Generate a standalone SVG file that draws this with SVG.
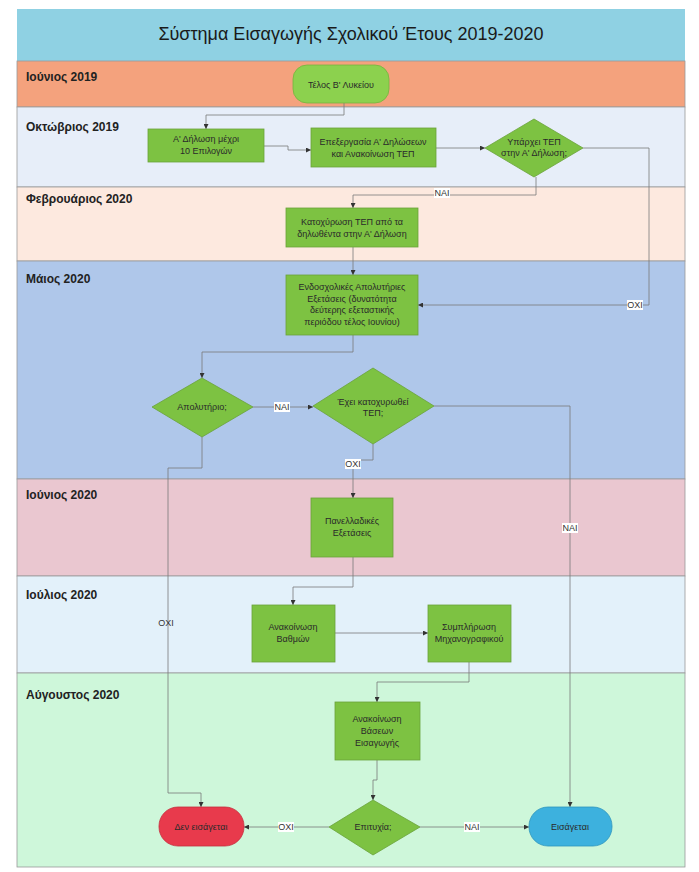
<svg xmlns="http://www.w3.org/2000/svg" width="699" height="872" viewBox="0 0 699 872">
<defs>
<marker id="arr" viewBox="0 0 10 10" refX="10" refY="5" markerWidth="5" markerHeight="5" markerUnits="userSpaceOnUse" orient="auto"><path d="M0,0 L10,5 L0,10z" fill="#333"/></marker>
<style>
.band{stroke:#9a9a9a;stroke-width:0.8}
.bl{font-family:"Liberation Sans",Arial,sans-serif;font-size:12px;font-weight:bold;fill:#222}
.t{font-family:"Liberation Sans Narrow","Liberation Sans",Arial,sans-serif;font-size:9px;fill:#2a2a2a;text-anchor:middle}
.g{fill:#7dc242;stroke:#6aa23a;stroke-width:0.8}
.c{fill:none;stroke:#7a7a7a;stroke-width:0.8;marker-end:url(#arr)}
.lb{fill:#ffffff}
.lt{font-family:"Liberation Sans Narrow","Liberation Sans",Arial,sans-serif;font-size:9px;fill:#333;text-anchor:middle}
</style>
</defs>
<rect width="699" height="872" fill="#ffffff"/>
<g id="lanes">
<rect x="17" y="9" width="668" height="52" fill="#8fd1e3"/>
<rect class="band" x="17" y="61" width="668" height="46" fill="#f4a27d"/>
<rect class="band" x="17" y="107" width="668" height="80" fill="#e7eef9"/>
<rect class="band" x="17" y="187" width="668" height="74" fill="#fde9df"/>
<rect class="band" x="17" y="261" width="668" height="218" fill="#afc7ea"/>
<rect class="band" x="17" y="479" width="668" height="97" fill="#eac7d0"/>
<rect class="band" x="17" y="576" width="668" height="97" fill="#e3f1fa"/>
<rect class="band" x="17" y="673" width="668" height="194" fill="#cef7da"/>
<text x="351" y="40" text-anchor="middle" style="font-family:'Liberation Sans',Arial,sans-serif;font-size:18px;fill:#1a1a1a">Σύστημα Εισαγωγής Σχολικού Έτους 2019-2020</text>
<text class="bl" x="26" y="81">Ιούνιος 2019</text>
<text class="bl" x="26" y="131">Οκτώβριος 2019</text>
<text class="bl" x="26" y="203">Φεβρουάριος 2020</text>
<text class="bl" x="26" y="283">Μάιος 2020</text>
<text class="bl" x="26" y="499">Ιούνιος 2020</text>
<text class="bl" x="26" y="599">Ιούλιος 2020</text>
<text class="bl" x="26" y="699">Αύγουστος 2020</text>
</g>
<g id="connectors">
<path class="c" d="M344,103 V115 H206 V129"/>
<path class="c" d="M264,146 H288 V150 H311"/>
<path class="c" d="M436,148 H485"/>
<path class="c" d="M536,177 V195 H353 V208"/>
<path class="c" d="M583,148 H649 V305 H418"/>
<path class="c" d="M353,247 V275"/>
<path class="c" d="M353,335 V352 H202 V378"/>
<path class="c" d="M253,407 H313"/>
<path class="c" d="M434,406 H570 V807"/>
<path class="c" d="M373,444 V460 H353 V498"/>
<path class="c" d="M353,557 V587 H293 V605"/>
<path class="c" d="M335,633 H428"/>
<path class="c" d="M469,662 V682 H377 V702"/>
<path class="c" d="M377,760 V780 H373 V800"/>
<path class="c" d="M202,437 V468 H168 V793 H201 V807"/>
<path class="c" d="M329,827 H244"/>
<path class="c" d="M420,827 H529"/>
<rect class="lb" x="434" y="188" width="16" height="10"/><text class="lt" x="442" y="196">ΝΑΙ</text>
<rect class="lb" x="627" y="300" width="16" height="10"/><text class="lt" x="635" y="308">ΟΧΙ</text>
<rect class="lb" x="274" y="402" width="16" height="10"/><text class="lt" x="282" y="410">ΝΑΙ</text>
<rect class="lb" x="345" y="459" width="16" height="10"/><text class="lt" x="353" y="467">ΟΧΙ</text>
<rect class="lb" x="562" y="523" width="16" height="10"/><text class="lt" x="570" y="531">ΝΑΙ</text>
<text class="lt" x="166" y="626">ΟΧΙ</text>
<rect class="lb" x="278" y="822" width="16" height="10"/><text class="lt" x="286" y="830">ΟΧΙ</text>
<rect class="lb" x="464" y="822" width="16" height="10"/><text class="lt" x="472" y="830">ΝΑΙ</text>
</g>
<g id="n-telos"><rect x="293" y="65" width="96" height="38" rx="14" fill="#8cd14e" stroke="#76b23f" stroke-width="0.8"/><text class="t" x="341" y="88">Τέλος Β' Λυκείου</text></g>
<g id="n-dilosi"><rect class="g" x="148" y="129" width="116" height="33"/><text class="t" x="206" y="142">Α' Δήλωση μέχρι</text><text class="t" x="206" y="154">10 Επιλογών</text></g>
<g id="n-epexergasia"><rect class="g" x="311" y="128" width="125" height="39"/><text class="t" x="373" y="145">Επεξεργασία Α' Δηλώσεων</text><text class="t" x="373" y="157">και Ανακοίνωση ΤΕΠ</text></g>
<g id="n-yparxei"><polygon class="g" points="534,119 583,148 534,177 485,148"/><text class="t" x="534" y="145">Υπάρχει ΤΕΠ</text><text class="t" x="534" y="156">στην Α' Δήλωση;</text></g>
<g id="n-katoxyrosi"><rect class="g" x="286" y="208" width="132" height="39"/><text class="t" x="352" y="225">Κατοχύρωση ΤΕΠ από τα</text><text class="t" x="352" y="237">δηλωθέντα στην Α' Δήλωση</text></g>
<g id="n-endosxolikes"><rect class="g" x="286" y="275" width="132" height="60"/><text class="t" x="352" y="290">Ενδοσχολικές Απολυτήριες</text><text class="t" x="352" y="302">Εξετάσεις (δυνατότητα</text><text class="t" x="352" y="313">δεύτερης εξεταστικής</text><text class="t" x="352" y="325">περιόδου τέλος Ιουνίου)</text></g>
<g id="n-apolytirio"><polygon class="g" points="202,378 253,407 202,437 152,407"/><text class="t" x="202" y="410">Απολυτήριο;</text></g>
<g id="n-exei"><polygon class="g" points="373,368 434,406 373,444 313,406"/><text class="t" x="373" y="405">Έχει κατοχυρωθεί</text><text class="t" x="373" y="416">ΤΕΠ;</text></g>
<g id="n-panelladikes"><rect class="g" x="311" y="498" width="82" height="59"/><text class="t" x="352" y="524">Πανελλαδικές</text><text class="t" x="352" y="536">Εξετάσεις</text></g>
<g id="n-vathmoi"><rect class="g" x="252" y="605" width="83" height="57"/><text class="t" x="293" y="630">Ανακοίνωση</text><text class="t" x="293" y="642">Βαθμών</text></g>
<g id="n-mixanografiko"><rect class="g" x="428" y="605" width="83" height="57"/><text class="t" x="469" y="630">Συμπλήρωση</text><text class="t" x="469" y="642">Μηχανογραφικού</text></g>
<g id="n-vaseis"><rect class="g" x="335" y="702" width="85" height="58"/><text class="t" x="377" y="722">Ανακοίνωση</text><text class="t" x="377" y="734">Βάσεων</text><text class="t" x="377" y="746">Εισαγωγής</text></g>
<g id="n-epityxia"><polygon class="g" points="373,800 420,827 373,855 329,827"/><text class="t" x="373" y="830">Επιτυχία;</text></g>
<g id="n-den"><rect x="159" y="807" width="85" height="39" rx="19" fill="#e83a4c" stroke="#c52f3e" stroke-width="0.8"/><text class="t" x="201" y="830">Δεν εισάγεται</text></g>
<g id="n-eisagetai"><rect x="529" y="807" width="83" height="39" rx="19" fill="#3db1de" stroke="#2f95bd" stroke-width="0.8"/><text class="t" x="570" y="830">Εισάγεται</text></g>
</svg>
